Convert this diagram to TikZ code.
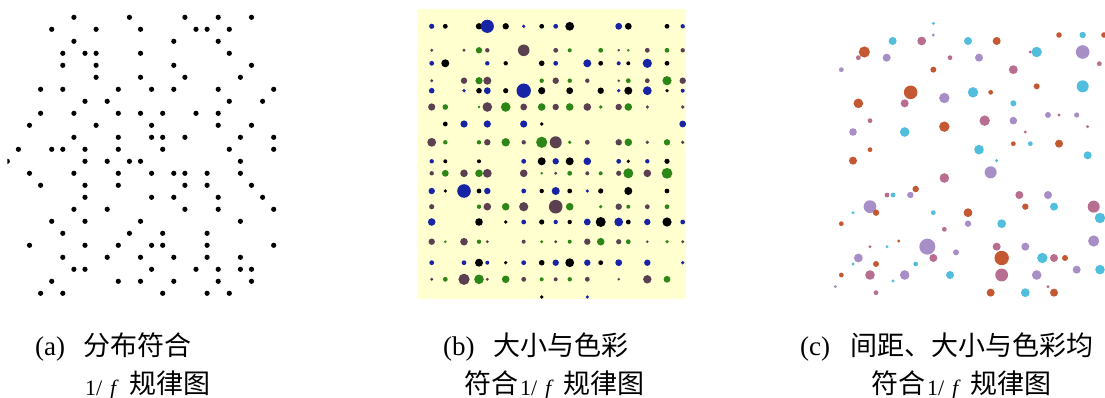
\documentclass[tikz,border=0pt]{standalone}
\usepackage{fontspec}
\setmainfont{Liberation Serif}
\newfontfamily\cjk{Noto Sans CJK SC}
\definecolor{bg}{RGB}{255,255,208}
\definecolor{bb}{RGB}{22,36,165}
\definecolor{bk}{RGB}{0,0,0}
\definecolor{bgr}{RGB}{45,135,22}
\definecolor{bm}{RGB}{90,64,80}
\definecolor{co}{RGB}{196,88,50}
\definecolor{cc}{RGB}{82,190,222}
\definecolor{cl}{RGB}{168,142,198}
\definecolor{cp}{RGB}{184,110,144}
\tikzset{
  zh/.style={anchor=base west, inner sep=0pt, font=\fontsize{27}{27}\selectfont\cjk},
  lat/.style={anchor=base west, inner sep=0pt, font=\fontsize{27}{27}\selectfont},
  frac/.style={anchor=base west, inner sep=0pt, font=\fontsize{22}{22}\selectfont}
}
\newcommand{\onef}{1/\hspace{0.35em}\textit{f}}
\begin{document}
\begin{tikzpicture}[x=1pt,y=-1pt]
\useasboundingbox (0,0) rectangle (1105,398);
% ---------- panel (a)
\begin{scope}
\clip (7.3,0) rectangle (300,310);
\foreach \j/\ks in {0/{6,11,16,19,22},1/{4,8,12,17,18,20},2/{6,15,19},3/{5,7,8,12,20},
 4/{5,8,15,22},5/{8,12,16,21},6/{3,5,10,13,15,19,24},7/{7,9,20,23},8/{3,6,10,12,14,17,19},
 9/{2,8,13,19,22},10/{6,10,13,14,16,21,24},11/{1,4,5,7,10,14,20,24},12/{0,7,9,11,12,21},
 13/{2,6,10,13,15,16,18,21},14/{3,7,10,16,18,22},15/{7,13,15,19,23},16/{6,9,16,19,24},
 17/{4,7,12,21},18/{5,11,14,18},19/{2,7,10,13,14,18,24},20/{5,9,12,15,18,21},
 21/{6,7,13,17,19,21,22},22/{4,10,12,15,19,22},23/{3,5,14,18,20}}{
  \foreach \k in \ks {\fill[black] ({7.3+11.1*\k},{17.3+12*\j}) circle[radius=2.6];}
}
\end{scope}
% ---------- panel (b)
\fill[bg] (417.3,9) rectangle (686,299.3);
\def\bx{{0,431.7,445.3,464,479,487.3,505.7,523.7,541.7,555.7,569.7,587.3,600.7,618.7,628.3,647.3,667,682.7}}
\def\by{{0,26.3,50.3,63.3,80.7,90.7,107,124,142.3,161.3,173.3,191,206.7,222,241.7,262.7,279.3,297}}
\foreach \r/\lst in {
 1/{1/bb/13,2/bk/12,4/bk/16,5/bb/33,6/bk/16,7/bb/9,8/bk/12,9/bb/12,10/bk/22,13/bb/17,14/bk/17,16/bk/12,17/bb/11},
 2/{1/bm/8,3/bm/8,4/bgr/16,5/bm/11,7/bm/29,9/bm/12,10/bgr/10,12/bgr/12,13/bm/7,14/bgr/7,15/bm/12,16/bgr/12,17/bm/11},
 3/{1/bb/12,2/bk/20,5/bb/11,6/bk/11,8/bk/14,9/bb/12,11/bb/20,12/bk/12,13/bb/10,14/bk/10,15/bb/23,16/bk/12},
 4/{1/bm/8,3/bm/16,4/bgr/18,5/bm/20,8/bgr/11,9/bm/16,10/bgr/11,11/bm/11,13/bm/7,14/bgr/12,15/bm/12,16/bgr/23,17/bm/16},
 5/{1/bb/14,3/bb/9,4/bk/14,5/bb/17,6/bk/13,7/bb/36,8/bk/18,10/bk/17,12/bk/16,13/bb/9,14/bk/20,15/bb/22,16/bk/9,17/bb/10},
 6/{1/bm/18,2/bgr/14,4/bgr/7,5/bm/24,6/bgr/24,7/bm/17,8/bgr/19,9/bm/16,10/bgr/19,11/bm/19,12/bgr/9,13/bm/16,14/bgr/19,15/bm/9,17/bm/9},
 7/{2/bk/12,3/bb/18,5/bb/18,7/bb/18,8/bk/9,17/bb/17},
 8/{1/bm/22,2/bgr/11,4/bgr/11,5/bm/16,6/bgr/21,7/bm/11,8/bgr/28,9/bm/30,10/bgr/9,11/bm/12,13/bm/16,14/bgr/19,15/bm/9,16/bgr/16,17/bm/9},
 9/{1/bb/11,2/bk/10,4/bk/10,7/bb/12,8/bk/20,9/bb/16,10/bk/20,11/bb/19,13/bb/12,14/bk/9,15/bb/11,16/bk/13},
 10/{1/bm/11,2/bgr/17,3/bm/19,4/bgr/19,5/bm/22,7/bm/19,8/bgr/7,9/bm/8,10/bgr/12,11/bm/10,12/bgr/10,13/bm/13,14/bgr/25,15/bm/19,16/bgr/27},
 11/{1/bb/16,2/bk/9,3/bb/34,4/bk/12,5/bb/16,7/bb/12,8/bk/11,9/bb/20,10/bk/12,11/bb/9,12/bk/13,14/bk/20,16/bk/12},
 12/{1/bm/13,4/bgr/11,5/bm/19,6/bgr/19,7/bm/23,9/bm/34,10/bgr/19,12/bgr/9,13/bm/16,14/bgr/10,15/bm/12,16/bgr/12},
 13/{1/bb/19,4/bk/19,6/bk/9,7/bb/12,8/bk/13,9/bb/11,10/bk/11,11/bb/17,12/bk/25,13/bb/22,14/bk/12,15/bb/16,16/bk/23,17/bb/12},
 14/{1/bm/16,2/bgr/7,3/bm/19,4/bgr/11,5/bm/8,7/bm/10,8/bgr/8,9/bm/8,10/bgr/10,11/bm/16,12/bgr/19,13/bm/13,14/bgr/12,15/bm/7,16/bgr/9,17/bm/8},
 15/{1/bb/12,3/bb/12,4/bk/20,5/bb/10,6/bk/9,7/bb/12,8/bk/14,9/bb/16,10/bk/22,11/bb/16,12/bk/12,13/bb/17,15/bb/16,17/bb/9},
 16/{1/bm/8,2/bgr/12,3/bm/28,4/bgr/24,5/bm/8,6/bgr/19,7/bm/12,8/bgr/10,9/bm/10,10/bgr/11,11/bm/12,13/bm/7,15/bm/21,16/bgr/17},
 17/{8/bk/9,11/bb/9}}{
  \foreach \c/\col/\d in \lst {
    \pgfmathsetmacro\xx{\bx[\c]}
    \pgfmathsetmacro\yy{\by[\r]}
    \fill[\col] (\xx,\yy) circle[radius=\d/5];
  }
}
% ---------- panel (c)
\begin{scope}[xshift=820pt, x=0.33333pt, y=-0.33333pt]
\foreach \zx/\zy/\col/\d in {340/70/cc/8,340/105/cl/8,218/123/cc/20,305/123/cp/22,444/123/cc/20,530/123/co/20,
 717/105/co/14,788/105/cc/16,852/105/co/14,133/156/co/28,115/173/cp/12,200/173/cl/20,390/173/cp/12,477/173/cl/20,
 631/156/cp/8,650/156/cc/26,788/156/cl/34,838/191/cp/12,64/209/cl/12,340/209/co/15,580/209/cp/22,272/277/co/34,
 373/294/cl/26,459/277/cc/26,512/277/co/12,650/259/co/15,788/259/cc/30,115/310/co/24,254/310/cp/20,580/310/cc/15,
 150/362/cp/12,494/362/cp/26,580/362/cl/19,684/345/cl/15,717/345/cp/8,770/345/cl/13,99/396/cl/19,254/396/cc/24,
 373/380/co/26,616/396/cp/8,803/380/cp/8,150/449/co/12,477/449/cc/24,580/431/co/12,631/431/cc/12,717/431/co/20,
 99/482/co/20,530/482/cc/8,803/466/cc/20,512/517/cl/30,373/534/cp/24,287/567/co/16,201/585/cp/12,219/585/cc/12,
 271/585/cl/16,598/585/cp/20,684/585/cl/20,150/620/cl/32,99/638/cc/8,168/638/co/16,340/638/cc/12,444/638/co/22,
 616/620/co/16,702/620/cc/20,821/620/cp/30,840/654/cc/26,64/671/co/12,373/688/cp/12,444/671/cl/16,545/671/cc/22,
 150/740/cp/8,201/740/cc/8,236/723/co/8,322/740/cl/40,408/757/cl/15,530/740/cp/20,616/740/cl/20,821/723/cl/28,
 115/774/cl/22,168/792/co/15,340/774/cp/20,545/774/co/36,667/774/cc/26,702/774/cp/20,735/774/co/15,99/792/cc/8,
 287/792/cc/12,64/825/co/12,150/825/cp/24,254/825/cl/24,390/825/cc/20,545/825/cp/32,650/825/cl/24,770/809/cl/20,
 840/809/cc/24,46/860/cl/8,219/843/cc/8,168/878/cp/12,512/878/co/20,616/878/cc/22,684/860/cp/8,702/878/co/20}{
  \fill[\col] (\zx,\zy) circle[radius=\d*0.6];
}
\end{scope}
% ---------- captions
\node[lat] (la) at (35,355) {(a)};
\node[zh]  (ta) at (83,355) {分布符合};
\node[frac] (fa) at (85,395) {\onef};
\node[zh]  (ga) at (129,393) {规律图};
\node[lat] (lb) at (443,355) {(b)};
\node[zh]  (tb) at (493,355) {大小与色彩};
\node[zh]  (hb) at (464,393) {符合};
\node[frac] (fb) at (520,395) {\onef};
\node[zh]  (gb) at (563,393) {规律图};
\node[lat] (lc) at (800,355) {(c)};
\node[zh]  (tc) at (850,355) {间距、大小与色彩均};
\node[zh]  (hc) at (871,393) {符合};
\node[frac] (fc) at (927,395) {\onef};
\node[zh]  (gc) at (970,393) {规律图};
\end{tikzpicture}
\end{document}
